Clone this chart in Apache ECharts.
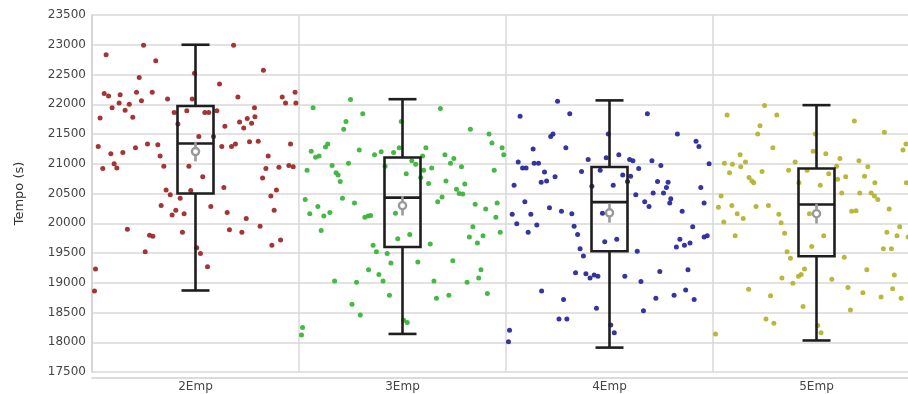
<!DOCTYPE html>
<html>
<head>
<meta charset="utf-8">
<script src="https://cdn.jsdelivr.net/npm/echarts@6/dist/echarts.min.js"></script>
<style>
html,body{margin:0;padding:0;background:#fff;overflow:hidden;width:908px;height:394px;}
#chart{width:920px;height:394px;}
</style>
</head>
<body>
<div id="chart"></div>
<script>
const categories = ['2Emp', '3Emp', '4Emp', '5Emp'];
const seriesColors = ['#a02a2a', '#3cb43c', '#2a2a9c', '#b4b432'];

// box plot statistics
const whiskerLow = [18870, 18140, 17910, 18030];
const quartile1  = [20500, 19600, 19530, 19445];
const medians    = [21340, 20430, 20355, 20315];
const quartile3  = [21970, 21105, 20945, 20920];
const whiskerHigh= [23000, 22085, 22065, 21985];
const means      = [21205, 20295, 20175, 20160];
const meanErr    = [165, 165, 165, 165];

// individual observations: horizontal jitter (fraction of category) and value
const jitter2 = [-0.251,0.184,-0.432,-0.192,-0.272,0.328,-0.005,0.116,-0.441,-0.420,
 -0.364,-0.285,-0.209,-0.135,-0.016,0.205,0.419,0.481,0.435,0.485,
 -0.369,-0.320,-0.261,-0.403,-0.340,0.285,-0.461,-0.303,-0.103,-0.042,
 0.045,0.064,0.103,-0.085,0.142,0.213,0.250,0.233,0.271,0.287,
 0.016,0.087,-0.470,-0.290,-0.232,-0.182,0.127,0.174,0.193,0.261,
 0.303,0.459,-0.409,-0.351,-0.171,0.351,-0.448,-0.393,-0.380,-0.153,
 -0.032,0.340,0.403,0.451,0.472,0.035,0.324,-0.142,-0.122,-0.023,
 -0.074,0.137,0.391,0.364,-0.166,0.074,-0.095,-0.113,-0.055,0.153,
 0.245,0.380,-0.329,-0.222,-0.206,-0.063,0.164,0.224,0.312,0.411,
 0.369,-0.243,0.006,0.024,0.058,-0.483,-0.488];
const values2 = [22990,22990,22830,22730,22450,22570,22520,22340,22180,22140,
 22160,22200,22200,22090,22090,22120,22120,22200,22020,22020,
 22020,22000,22060,21940,21900,21940,21770,21780,21860,21890,
 21860,21860,21890,21670,21630,21700,21760,21600,21680,21790,
 21460,21460,21290,21270,21330,21320,21290,21290,21330,21370,
 21380,21330,21170,21190,21130,21130,20920,21000,20930,20960,
 20960,20920,20940,20970,20950,20780,20760,20560,20480,20550,
 20420,20600,20560,20460,20300,20280,20220,20140,20160,20180,
 20080,20220,19900,19800,19780,19850,19890,19850,19950,19720,
 19630,19520,19590,19490,19270,19230,18860];

const jitter3 = [-0.251,0.183,-0.432,-0.192,-0.273,-0.284,0.328,-0.006,0.418,0.432,
 0.481,0.489,-0.441,-0.420,-0.403,-0.372,-0.361,-0.209,-0.135,-0.103,
 -0.043,-0.016,0.113,0.097,0.205,0.248,0.232,0.285,-0.340,-0.261,
 -0.461,-0.321,-0.311,-0.301,-0.084,0.045,0.064,0.018,0.102,0.141,
 0.088,0.126,0.443,0.210,0.301,0.261,0.274,0.291,0.191,0.170,
 -0.470,-0.290,-0.232,-0.409,-0.448,-0.380,-0.351,-0.182,-0.166,-0.154,
 -0.034,0.351,0.402,0.457,0.451,0.472,-0.393,0.340,0.389,0.323,
 0.362,0.035,-0.023,0.134,-0.142,-0.126,-0.074,-0.056,0.074,0.243,
 -0.164,-0.114,-0.094,0.379,0.368,-0.328,-0.222,0.152,0.312,-0.063,
 0.164,0.224,0.410,-0.244,-0.204,0.006,0.023,-0.483,-0.488];
const values3 = [22080,21930,21940,21840,21710,21580,21580,21710,21500,21350,
 21270,21150,21210,21110,21130,21280,21330,21230,21150,21200,
 21190,21270,21270,21130,21150,21090,21010,20950,20970,21010,
 20890,20850,20810,20700,20960,21050,20990,20830,20890,20930,
 20770,20670,20890,20710,20660,20570,20500,20490,20440,20360,
 20400,20420,20340,20280,20160,20120,20180,20100,20120,20130,
 20170,20320,20240,20340,20100,19850,19880,19940,19790,19770,
 19670,19810,19740,19650,19630,19520,19490,19330,19350,19370,
 19220,19140,19030,19220,19080,19030,19010,19030,19010,18790,
 18740,18790,18820,18640,18460,18370,18330,18250,18120];

const jitter4 = [-0.251,0.183,-0.432,-0.192,-0.284,-0.273,0.328,-0.006,0.418,0.432,
 0.481,-0.369,-0.211,-0.441,-0.420,-0.403,-0.364,-0.343,-0.314,-0.330,
 -0.304,-0.263,-0.135,-0.103,-0.016,-0.045,0.045,0.097,0.113,0.141,
 0.205,0.248,0.064,0.102,0.087,0.018,-0.085,0.232,0.283,-0.461,
 0.275,0.261,0.441,0.211,0.127,0.296,0.291,0.170,0.191,-0.409,
 -0.290,-0.232,-0.182,-0.470,-0.380,-0.034,0.351,0.457,-0.448,-0.351,
 -0.393,-0.171,-0.154,0.402,0.457,0.472,0.340,0.323,0.362,0.389,
 -0.023,0.035,0.134,-0.142,-0.126,-0.164,-0.114,-0.094,-0.074,-0.056,
 0.074,0.243,0.379,0.152,0.368,0.312,0.409,0.224,-0.328,-0.222,
 -0.063,0.164,-0.244,-0.206,0.006,0.023,-0.483,-0.488];
const values4 = [22050,21840,21800,21840,21460,21500,21500,21500,21380,21290,
 21000,21250,21270,21030,20930,20930,21010,21010,20860,20690,
 20710,20780,20870,21070,21100,20890,21150,21070,21050,20920,
 21050,20970,20810,20790,20700,20640,20620,20700,20690,20640,
 20600,20510,20600,20510,20480,20410,20340,20360,20280,20360,
 20260,20200,20160,20150,20150,20170,20200,20340,19990,19970,
 19850,19950,19810,19940,19770,19790,19730,19600,19630,19670,
 19690,19730,19530,19570,19450,19170,19150,19080,19130,19110,
 19110,19190,19220,19020,18880,18790,18720,18740,18860,18720,
 18570,18530,18390,18390,18290,18160,18200,18010];

const jitter5 = [-0.251,0.183,-0.432,-0.192,-0.273,-0.284,0.328,-0.006,0.418,0.432,
 -0.211,-0.369,-0.445,-0.406,-0.366,-0.343,-0.420,-0.263,-0.326,-0.312,
 -0.303,-0.135,-0.103,-0.016,0.045,-0.045,0.113,0.097,0.059,0.102,
 0.141,0.205,0.248,0.232,0.282,0.018,-0.085,0.122,0.209,0.264,
 0.280,0.296,0.434,-0.461,-0.474,-0.409,-0.383,-0.354,-0.448,-0.292,
 -0.232,-0.182,-0.171,-0.034,0.170,0.191,0.351,-0.393,-0.154,0.035,
 -0.023,0.402,0.340,0.389,0.323,0.362,0.443,0.134,-0.142,-0.126,
 -0.058,-0.074,-0.087,-0.167,-0.114,0.074,0.243,0.376,0.152,0.368,
 0.409,0.312,0.224,-0.328,-0.222,-0.065,0.164,-0.244,-0.206,0.006,
 0.022,-0.488];
const values5 = [21980,21720,21820,21820,21640,21500,21530,21500,21230,21330,
 21270,21150,21010,20990,20950,21030,20850,20870,20770,20710,
 20680,20890,21030,21210,21170,20890,21090,20960,20830,20740,
 20780,21050,20950,20790,20680,20640,20680,20510,20510,20510,
 20460,20400,20680,20460,20270,20300,20160,20080,20020,20280,
 20300,20150,20010,20160,20200,20210,20240,19790,19830,19790,
 19610,19940,19850,19790,19570,19570,19770,19430,19520,19410,
 19230,19140,19110,19080,18990,19060,19220,19130,18920,18900,
 18740,18760,18830,18890,18780,18600,18540,18390,18320,18280,
 18160,18140];

const jitters = [jitter2, jitter3, jitter4, jitter5];
const valueSets = [values2, values3, values4, values5];

const chart = echarts.init(document.getElementById('chart'), null, {renderer: 'canvas'});

const scatterSeries = categories.map((name, ci) => ({
  name: name,
  type: 'scatter',
  xAxisIndex: 1,
  yAxisIndex: 0,
  symbol: 'circle',
  symbolSize: 5,
  silent: true,
  itemStyle: {color: seriesColors[ci], opacity: 0.95},
  data: valueSets[ci].map((v, k) => [ci + 0.5 + jitters[ci][k], v])
}));

const boxData = categories.map((c, i) => [i + 0.5, whiskerLow[i], quartile1[i], medians[i], quartile3[i], whiskerHigh[i], means[i], meanErr[i]]);

const boxSeries = {
  type: 'custom',
  xAxisIndex: 1,
  yAxisIndex: 0,
  silent: true,
  clip: false,
  encode: {x: 0, y: [1, 5]},
  data: boxData,
  z: 10,
  renderItem: function (params, api) {
    const xv = api.value(0);
    const py = v => api.coord([xv, v])[1];
    const x = api.coord([xv, api.value(3)])[0];
    const hw = 18, cap = 14;
    const black = {stroke: '#1e1e1e', lineWidth: 2.6, fill: null};
    const grey = {stroke: '#9a9a9a', lineWidth: 2.6, fill: null};
    const yLo = py(api.value(1)), yQ1 = py(api.value(2)), yMed = py(api.value(3)),
          yQ3 = py(api.value(4)), yHi = py(api.value(5)), yMean = py(api.value(6));
    const e = api.value(7);
    return {
      type: 'group',
      children: [
        {type: 'line', shape: {x1: x, y1: yHi, x2: x, y2: yQ3}, style: black},
        {type: 'line', shape: {x1: x, y1: yQ1, x2: x, y2: yLo}, style: black},
        {type: 'line', shape: {x1: x - cap, y1: yHi, x2: x + cap, y2: yHi}, style: black},
        {type: 'line', shape: {x1: x - cap, y1: yLo, x2: x + cap, y2: yLo}, style: black},
        {type: 'rect', shape: {x: x - hw, y: yQ3, width: hw * 2, height: yQ1 - yQ3}, style: black},
        {type: 'line', shape: {x1: x - hw, y1: yMed, x2: x + hw, y2: yMed}, style: black},
        {type: 'line', shape: {x1: x, y1: py(api.value(6) + e), x2: x, y2: py(api.value(6) - e)}, style: grey},
        {type: 'circle', shape: {cx: x, cy: yMean, r: 3.6}, style: {stroke: '#9a9a9a', lineWidth: 2.4, fill: '#ffffff'}}
      ]
    };
  }
};

chart.setOption({
  animation: false,
  backgroundColor: '#ffffff',
  grid: {left: 92, top: 15, right: 0, bottom: 22, containLabel: false},
  xAxis: [
    {
      type: 'category',
      data: categories,
      boundaryGap: true,
      offset: 6,
      axisLine: {show: true, lineStyle: {color: '#cfcfcf', width: 1.5}},
      axisTick: {show: false},
      axisLabel: {fontFamily: 'DejaVu Sans', fontSize: 12, color: '#454545', margin: 3},
      splitLine: {show: true, interval: 0, lineStyle: {color: '#d8d8d8', width: 1.5}}
    },
    {type: 'value', min: 0, max: 4, show: false}
  ],
  yAxis: {
    type: 'value',
    min: 17500,
    max: 23500,
    interval: 500,
    name: 'Tempo (s)',
    nameLocation: 'middle',
    nameGap: 66,
    nameTextStyle: {fontFamily: 'DejaVu Sans', fontSize: 13, color: '#333'},
    axisLine: {show: true, lineStyle: {color: '#d0d0d0', width: 1.5}},
    axisTick: {show: false},
    axisLabel: {fontFamily: 'DejaVu Sans', fontSize: 12, color: '#454545', margin: 6,
      formatter: function (v) { return String(v); }},
    splitLine: {show: true, lineStyle: {color: '#d8d8d8', width: 1.5}}
  },
  series: scatterSeries.concat([boxSeries])
});
</script>
</body>
</html>
